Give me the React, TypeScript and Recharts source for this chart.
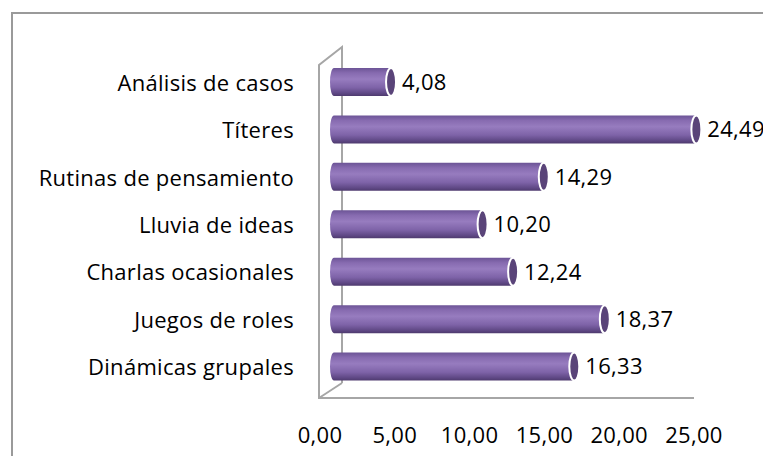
import React from "react";
import { BarChart, Bar, XAxis, YAxis, LabelList } from "recharts";

const categories = [
  "Análisis de casos",
  "Títeres",
  "Rutinas de pensamiento",
  "Lluvia de ideas",
  "Charlas ocasionales",
  "Juegos de roles",
  "Dinámicas grupales",
];
const values = [4.08, 24.49, 14.29, 10.2, 12.24, 18.37, 16.33];
const xTicks = [0, 5, 10, 15, 20, 25];

const data = categories.map((name, i) => ({ name, value: values[i] }));

const W = 771;
const H = 464;
const FONT = "'Open Sans', Lato, sans-serif";
const FONT_SIZE = 22;
const SPACING = 0.3;

// plot area
const PLOT_LEFT = 330;
const PLOT_RIGHT = 704;
const PLOT_TOP = 58;
const PLOT_BOTTOM = 390;
const X_AXIS_H = 30;

const fmt = (v: number) => v.toFixed(2).replace(".", ",");

function Cylinder(props: any) {
  const { x, y, width, height } = props;
  if (width == null || height == null) return null;
  const ry = height / 2;
  const cy = y + ry;
  const end = x + width;
  return (
    <g>
      <path
        d={`M${end},${y} L${x + 4},${y} A4,${ry} 0 0 0 ${x + 4},${y + height} L${end},${y + height} Z`}
        fill="url(#cylBody)"
      />
      <ellipse cx={end} cy={cy} rx={5} ry={ry} fill="#5a4479" stroke="#fff" strokeWidth={2} />
    </g>
  );
}

function CatTick(props: any) {
  const { x, y, payload } = props;
  return (
    <text x={x} y={y} textAnchor="end" dominantBaseline="central" fontFamily={FONT} fontSize={FONT_SIZE} letterSpacing={SPACING} fill="#000">
      {payload.value}
    </text>
  );
}

function NumTick(props: any) {
  const { x, y, payload } = props;
  return (
    <text x={x - 10} y={y} textAnchor="middle" dominantBaseline="central" fontFamily={FONT} fontSize={FONT_SIZE} letterSpacing={SPACING} fill="#000">
      {fmt(payload.value)}
    </text>
  );
}

function Wall() {
  const front = PLOT_LEFT - 11;
  const back = PLOT_LEFT + 12;
  const c = "#a6a6a6";
  return (
    <svg width={W} height={H} style={{ position: "absolute", left: 0, top: 0 }}>
      <g stroke={c} strokeWidth={2} fill="none">
        <polyline points={`${back},${PLOT_BOTTOM - 7} ${back},${PLOT_TOP - 11} ${front},${PLOT_TOP + 7} ${front},${PLOT_BOTTOM + 8} ${PLOT_RIGHT - 10},${PLOT_BOTTOM + 8}`} />
        <line x1={front} y1={PLOT_BOTTOM + 8} x2={back} y2={PLOT_BOTTOM - 7} />
      </g>
    </svg>
  );
}

export default function App() {
  return (
    <div style={{ position: "relative", margin: -8, width: W, height: H, overflow: "hidden", background: "#fff" }}>
      <div
        style={{
          position: "absolute",
          left: 11,
          top: 12,
          width: W + 20,
          height: H + 20,
          border: "2px solid #9a9a9a",
          boxSizing: "border-box",
        }}
      />
      <Wall />
      <div style={{ position: "absolute", left: 0, top: 0 }}>
        <BarChart
          width={W}
          height={H}
          data={data}
          layout="vertical"
          barSize={28}
          margin={{ top: PLOT_TOP, right: W - PLOT_RIGHT, bottom: H - PLOT_BOTTOM - X_AXIS_H, left: 0 }}
        >
          <defs>
            <linearGradient id="cylBody" x1="0" y1="0" x2="0" y2="1">
              <stop offset="0%" stopColor="#6c5496" />
              <stop offset="18%" stopColor="#876bb0" />
              <stop offset="40%" stopColor="#977cbf" />
              <stop offset="70%" stopColor="#7e63a8" />
              <stop offset="90%" stopColor="#5f4885" />
              <stop offset="100%" stopColor="#4e3a6e" />
            </linearGradient>
          </defs>
          <XAxis
            type="number"
            domain={[0, 25]}
            ticks={xTicks}
            axisLine={false}
            tickLine={false}
            height={X_AXIS_H}
            tickMargin={0}
            tickSize={0}
            tick={(p: any) => <NumTick {...p} y={p.y + 44} />}
            interval={0}
          />
          <YAxis
            type="category"
            dataKey="name"
            width={PLOT_LEFT}
            axisLine={false}
            tickLine={false}
            tickSize={0}
            tickMargin={36}
            tick={<CatTick />}
            interval={0}
          />
          <Bar dataKey="value" shape={<Cylinder />} isAnimationActive={false}>
            <LabelList
              dataKey="value"
              position="right"
              offset={11}
              formatter={(v: any) => fmt(Number(v))}
              style={{ fontFamily: FONT, fontSize: FONT_SIZE, letterSpacing: SPACING, fill: "#000" }}
            />
          </Bar>
        </BarChart>
      </div>
    </div>
  );
}
